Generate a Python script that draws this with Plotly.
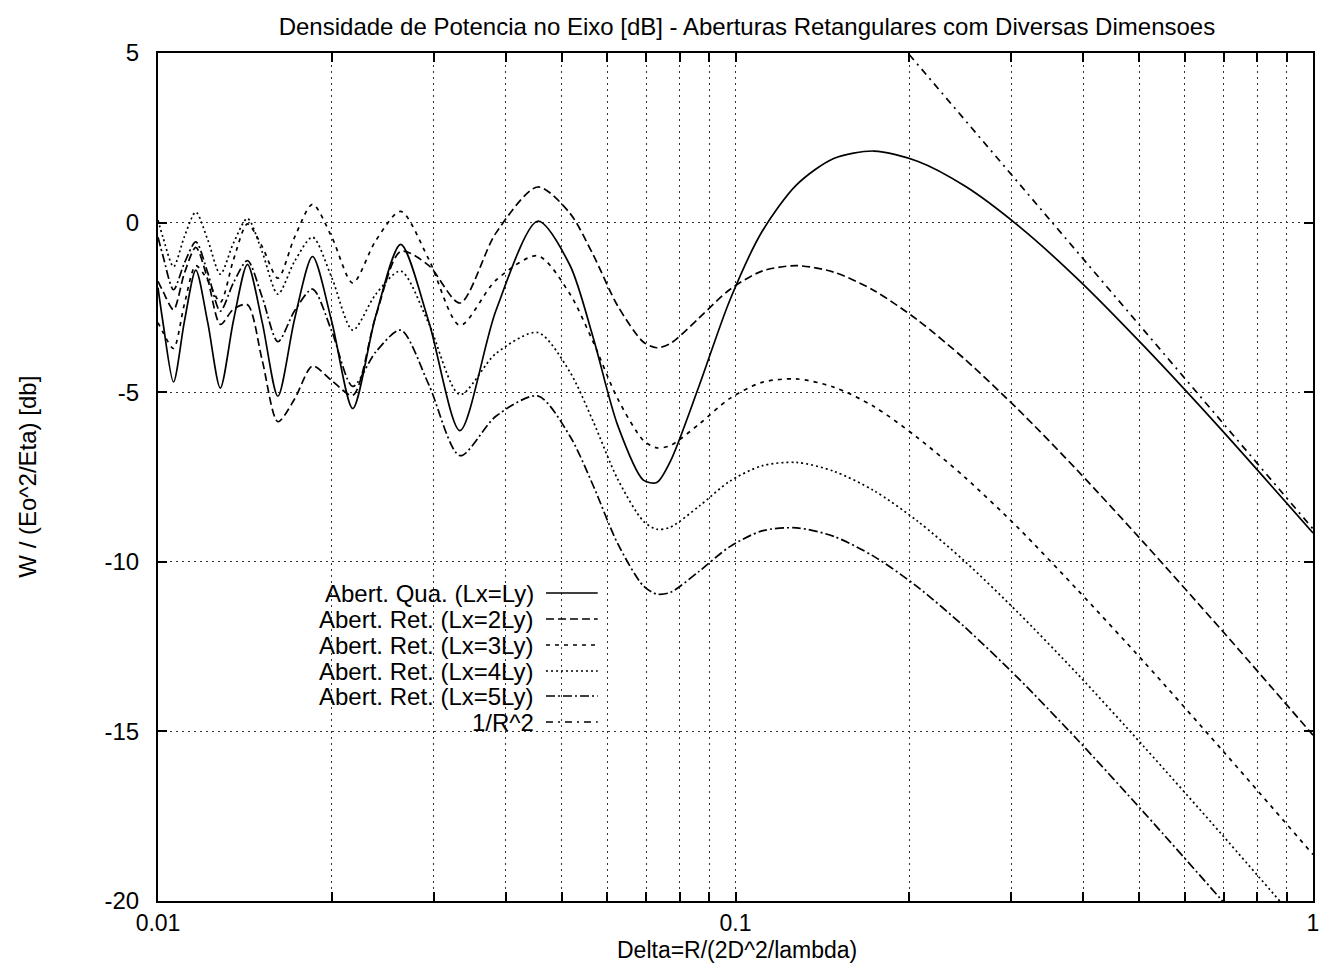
import plotly.graph_objects as go

# ---- data ----
delta = [0.01, 0.010204, 0.010638, 0.011111, 0.011628, 0.012195, 0.012821, 0.013514,
         0.014286, 0.015152, 0.016129, 0.017241, 0.018519, 0.02, 0.021739, 0.02381,
         0.026316, 0.029412, 0.033333, 0.038462, 0.045455, 0.051653, 0.056689, 0.0625,
         0.069252, 0.073046, 0.07716, 0.086505, 0.097656, 0.111111, 0.127551, 0.147929,
         0.173611, 0.206612, 0.25, 0.308642, 0.390625, 0.510204, 0.694444, 1.0]

quad_1x1 = [-1.92, -2.96, -4.70, -2.91, -1.40, -2.95, -4.88, -2.88, -1.23, -2.94,
            -5.12, -2.84, -1.00, -2.93, -5.48, -2.77, -0.64, -2.90, -6.13, -2.60,
            0.04, -1.25, -3.39, -5.97, -7.59, -7.66, -7.03, -4.81, -2.31, -0.27,
            1.11, 1.89, 2.11, 1.81, 1.07, -0.09, -1.65, -3.65, -6.11, -9.15]

ret_2x1 = [-1.73, -2.03, -2.57, -1.49, -0.73, -1.68, -3.00, -2.55, -2.42, -4.06,
           -5.87, -5.20, -4.23, -4.66, -5.09, -2.78, -0.85, -1.26, -2.37, -0.31,
           1.05, 0.28, -0.95, -2.45, -3.52, -3.69, -3.56, -2.81, -1.98, -1.43,
           -1.27, -1.46, -2.00, -2.87, -4.04, -5.51, -7.30, -9.45, -12.01, -15.11]

ret_3x1 = [-2.95, -3.24, -3.71, -2.40, -1.27, -1.70, -2.35, -1.09, -0.04, -0.71,
           -1.64, -0.43, 0.54, -0.43, -1.78, -0.54, 0.33, -1.07, -3.03, -1.70,
           -0.98, -2.10, -3.52, -5.19, -6.42, -6.64, -6.57, -5.94, -5.19, -4.71,
           -4.61, -4.85, -5.42, -6.34, -7.52, -9.00, -10.82, -12.96, -15.53, -18.63]

ret_4x1 = [0.07, -0.44, -1.30, -0.41, 0.31, -0.51, -1.52, -0.60, 0.12, -0.87,
           -2.11, -1.14, -0.43, -1.63, -3.17, -2.12, -1.43, -2.96, -5.07, -3.86,
           -3.24, -4.40, -5.86, -7.56, -8.80, -9.04, -8.98, -8.36, -7.63, -7.17,
           -7.07, -7.33, -7.90, -8.80, -10.00, -11.50, -13.30, -15.46, -18.03, -21.13]

ret_5x1 = [-0.43, -0.99, -1.98, -1.19, -0.57, -1.48, -2.61, -1.77, -1.12, -2.20,
           -3.51, -2.60, -1.96, -3.21, -4.83, -3.82, -3.17, -4.76, -6.87, -5.71,
           -5.11, -6.29, -7.75, -9.46, -10.71, -10.95, -10.90, -10.28, -9.56, -9.09,
           -9.00, -9.25, -9.84, -10.74, -11.94, -13.43, -15.24, -17.40, -19.97, -23.07]

inv_r2_x = [0.2, 1.0]
inv_r2_y = [4.95, -9.03]

names = ["Abert. Qua. (Lx=Ly)", "Abert. Ret. (Lx=2Ly)", "Abert. Ret. (Lx=3Ly)",
         "Abert. Ret. (Lx=4Ly)", "Abert. Ret. (Lx=5Ly)", "1/R^2"]

x_tickvals = [0.01, 0.02, 0.03, 0.04, 0.05, 0.06, 0.07, 0.08, 0.09,
              0.1, 0.2, 0.3, 0.4, 0.5, 0.6, 0.7, 0.8, 0.9, 1.0]
x_ticktext = ["0.01", "", "", "", "", "", "", "", "",
              "0.1", "", "", "", "", "", "", "", "", "1"]
y_tickvals = [-20, -15, -10, -5, 0, 5]

# ---- styles ----
dashes = ["solid", "8px,4px", "4px,5px", "2px,3px", "9px,3px,2px,3px", "7px,5px,2px,5px"]
LW = 1.7
FONT = "Liberation Sans, Arial, Helvetica, sans-serif"
FS = 24

# page offset (body margin) and figure size chosen so nothing scrolls
OFF = 8
FIG_W, FIG_H = 1321, 956
# plot area in page pixels
L, R, T, B = 158, 1319, 53, 901
W, H = R - L, B - T

def px(x):
    return (x - L) / W

def py(y):
    return (B - y) / H

fig = go.Figure()
series = [quad_1x1, ret_2x1, ret_3x1, ret_4x1, ret_5x1]
for name, ys, dsh in zip(names[:5], series, dashes[:5]):
    fig.add_trace(go.Scatter(x=delta, y=ys, mode="lines", name=name,
                             line=dict(color="black", width=LW, dash=dsh,
                                       shape="spline", smoothing=0.8),
                             showlegend=False))
fig.add_trace(go.Scatter(x=inv_r2_x, y=inv_r2_y, mode="lines", name=names[5],
                         line=dict(color="black", width=LW, dash=dashes[5]),
                         showlegend=False))

# ---- gnuplot-style key: text, then sample line ----
row_y = [593, 619, 645, 671, 696, 722]
for name, dsh, yy in zip(names, dashes, row_y):
    fig.add_annotation(x=px(538), y=py(yy), xref="paper", yref="paper",
                       text=name, showarrow=False, xanchor="right", yanchor="middle",
                       font=dict(family=FONT, size=FS, color="black"))
    fig.add_shape(type="line", xref="paper", yref="paper",
                  x0=px(548), x1=px(600), y0=py(yy), y1=py(yy),
                  line=dict(color="black", width=LW, dash=dsh))

# axis titles
fig.add_annotation(x=px(740), y=py(964), xref="paper", yref="paper",
                   text="Delta=R/(2D^2/lambda)", showarrow=False,
                   xanchor="center", yanchor="bottom", borderpad=0,
                   font=dict(family=FONT, size=23, color="black"))
fig.add_annotation(x=px(26), y=py(477), xref="paper", yref="paper",
                   text="W / (Eo^2/Eta) [db]", showarrow=False, textangle=-90,
                   xanchor="center", yanchor="middle",
                   font=dict(family=FONT, size=FS, color="black"))

axis_common = dict(showline=True, linecolor="black", linewidth=2, mirror="ticks",
                   ticks="inside", ticklen=9, tickwidth=1.5, tickcolor="black",
                   showgrid=True, gridcolor="#333333", gridwidth=1, griddash="2px,4px",
                   zeroline=False, ticklabeloverflow="allow")

fig.update_xaxes(type="log", range=[-2, 0], tickmode="array",
                 tickvals=x_tickvals, ticktext=x_ticktext,
                 ticklabelstandoff=0,
                 tickfont=dict(family=FONT, size=23, color="black"), **axis_common)
fig.update_yaxes(range=[-20, 5], tickmode="array", tickvals=y_tickvals,
                 ticktext=[str(v) for v in y_tickvals],
                 ticklabelstandoff=12,
                 tickfont=dict(family=FONT, size=FS, color="black"), **axis_common)

fig.update_layout(
    width=FIG_W, height=FIG_H,
    margin=dict(l=L - OFF, r=FIG_W - (R - OFF), t=T - OFF, b=FIG_H - (B - OFF)),
    paper_bgcolor="white", plot_bgcolor="white",
    title=dict(text="Densidade de Potencia no Eixo [dB] - Aberturas Retangulares com Diversas Dimensoes",
               x=px(750), xref="paper", xanchor="center",
               y=1 - (27 - OFF) / FIG_H, yref="container", yanchor="middle",
               font=dict(family=FONT, size=FS, color="black")),
    font=dict(family=FONT, size=FS, color="black"),
    showlegend=False,
)

fig.write_html("out.html")
